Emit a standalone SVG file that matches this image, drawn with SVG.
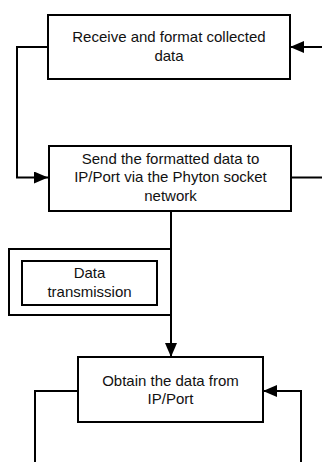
<svg xmlns="http://www.w3.org/2000/svg" width="322" height="462" viewBox="0 0 322 462">
  <style>
    .box { fill: #fff; stroke: #000; stroke-width: 2; }
    .line { fill: none; stroke: #000; stroke-width: 2; }
    .lbl { font-family: "Liberation Sans", Arial, sans-serif; font-size: 15px; fill: #111; text-anchor: middle; }
  </style>
  <defs>
    <marker id="arrow" markerUnits="userSpaceOnUse" markerWidth="14" markerHeight="12" refX="14" refY="6" orient="auto">
      <polygon points="0,0 14,6 0,12" fill="#000"/>
    </marker>
  </defs>
  <rect width="322" height="462" fill="#fff"/>
  <g id="connectors">
    <path class="line" d="M48,47 H17 V177.5 H48" marker-end="url(#arrow)"/>
    <path class="line" d="M322,47 H290" marker-end="url(#arrow)"/>
    <path class="line" d="M291,177.5 H322"/>
    <path class="line" d="M171,211 V249"/>
    <path class="line" d="M171,249 V357" marker-end="url(#arrow)"/>
    <path class="line" d="M78,391 H35 V462"/>
    <path class="line" d="M301,462 V391 H263" marker-end="url(#arrow)"/>
  </g>
  <g id="node-receive">
    <rect class="box" x="48" y="15" width="242" height="64"/>
    <text class="lbl" x="169" y="41.5">Receive and format collected</text>
    <text class="lbl" x="169" y="61">data</text>
  </g>
  <g id="node-send">
    <rect class="box" x="49" y="146" width="242" height="65"/>
    <text class="lbl" x="170.5" y="164">Send the formatted data to</text>
    <text class="lbl" x="170.5" y="182.3">IP/Port via the Phyton socket</text>
    <text class="lbl" x="170.5" y="200.5">network</text>
  </g>
  <g id="node-transmission">
    <rect class="line" x="9" y="249" width="162" height="66"/>
    <rect class="box" x="22" y="261" width="135" height="44"/>
    <text class="lbl" x="89.5" y="278.3">Data</text>
    <text class="lbl" x="89.5" y="296.7">transmission</text>
  </g>
  <g id="node-obtain">
    <rect class="box" x="78" y="357" width="185" height="65"/>
    <text class="lbl" x="170.5" y="385.7">Obtain the data from</text>
    <text class="lbl" x="170.5" y="403.5">IP/Port</text>
  </g>
</svg>
